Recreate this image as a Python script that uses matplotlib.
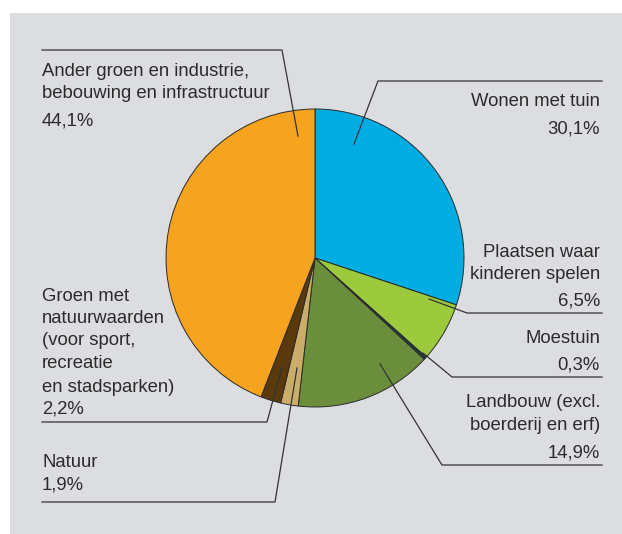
import matplotlib.pyplot as plt
from matplotlib.patches import Rectangle

W, H = 622, 534

categories = [
    "Wonen met tuin",
    "Plaatsen waar kinderen spelen",
    "Moestuin",
    "Landbouw (excl. boerderij en erf)",
    "Natuur",
    "Groen met natuurwaarden (voor sport, recreatie en stadsparken)",
    "Ander groen en industrie, bebouwing en infrastructuur",
]
shares = [30.1, 6.5, 0.3, 14.9, 1.9, 2.2, 44.1]

label_lines = [
    ["Wonen met tuin"],
    ["Plaatsen waar", "kinderen spelen"],
    ["Moestuin"],
    ["Landbouw (excl.", "boerderij en erf)"],
    ["Natuur"],
    ["Groen met", "natuurwaarden", "(voor sport,", "recreatie", "en stadsparken)"],
    ["Ander groen en industrie,", "bebouwing en infrastructuur"],
]

colors = ["#00ade3", "#9dca3c", "#1e3b45", "#6a8e3c", "#caad68", "#5a3a0c", "#f6a31f"]

# label placement in pixel coords (y measured from top)
label_x = [600, 600, 600, 600, 42, 42, 42]
label_ha = ["right", "right", "right", "right", "left", "left", "left"]
baselines = [
    [106, 133],
    [257, 279, 305],
    [343, 370],
    [407, 430, 457],
    [467, 490],
    [301, 323, 345, 368, 392, 413],
    [76, 98, 125],
]
leaders = [
    [(354, 144), (378, 81), (602, 81)],
    [(429, 299), (467, 313), (602, 313)],
    [(423, 353), (452, 377), (602, 377)],
    [(380, 364), (442, 465), (602, 465)],
    [(297, 368), (275, 502), (42, 502)],
    [(282, 367), (267, 422), (42, 422)],
    [(298, 136), (282, 50), (42, 50)],
]

plt.rcParams["font.family"] = ["Liberation Sans", "DejaVu Sans"]
text_color = "#2b2b2b"
line_color = "#333333"

fig = plt.figure(figsize=(W / 100, H / 100), dpi=100)
fig.patch.set_facecolor("white")
ax = fig.add_axes([0, 0, 1, 1])


def fy(y):
    return H - y


ax.add_patch(Rectangle((10, 0), W - 10, fy(13), facecolor="#dcdde0",
                       edgecolor="none", zorder=0))

ax.pie(
    shares,
    colors=colors,
    startangle=90,
    counterclock=False,
    center=(315, fy(258)),
    radius=149,
    wedgeprops=dict(edgecolor="#2a2a2a", linewidth=0.7, zorder=2),
)

for lines, share, x, ha, ys, pts in zip(label_lines, shares, label_x,
                                         label_ha, baselines, leaders):
    texts = lines + [f"{share:.1f}".replace(".", ",") + "%"]
    for t, y in zip(texts, ys):
        ax.text(x, fy(y), t, ha=ha, va="baseline", fontsize=13.3,
                color=text_color, zorder=5)
    xs = [p[0] for p in pts]
    ys_line = [fy(p[1]) for p in pts]
    ax.plot(xs, ys_line, color=line_color, linewidth=0.9, zorder=4,
            solid_joinstyle="miter")

ax.set_xlim(0, W)
ax.set_ylim(0, H)
ax.set_aspect("auto")
ax.axis("off")

fig.savefig("out.png", dpi=100)
